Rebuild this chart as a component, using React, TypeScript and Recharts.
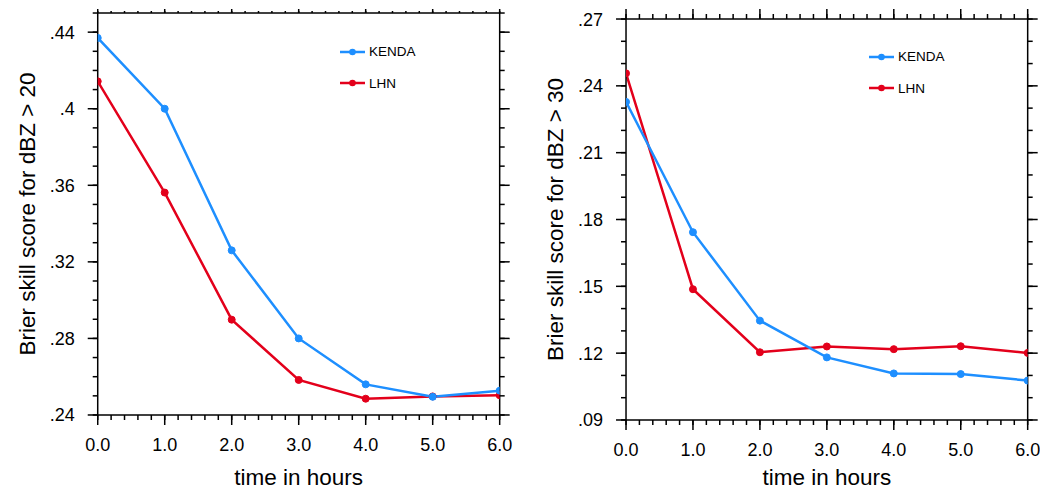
import { LineChart, Line, XAxis, YAxis, Legend } from "recharts";

const HOURS = [0, 1, 2, 3, 4, 5, 6];
const MINOR_HOURS = [
  0, 0.2, 0.4, 0.6, 0.8, 1, 1.2, 1.4, 1.6, 1.8, 2, 2.2, 2.4, 2.6, 2.8, 3, 3.2,
  3.4, 3.6, 3.8, 4, 4.2, 4.4, 4.6, 4.8, 5, 5.2, 5.4, 5.6, 5.8, 6,
];

// dBZ > 20
const KENDA_20 = [0.437, 0.4, 0.326, 0.28, 0.256, 0.2495, 0.2527];
const LHN_20 = [0.4143, 0.3562, 0.2898, 0.2583, 0.2485, 0.2497, 0.2503];
const TICKS_20 = [0.24, 0.28, 0.32, 0.36, 0.4, 0.44];
const MINOR_20 = [
  0.24, 0.25, 0.26, 0.27, 0.28, 0.29, 0.3, 0.31, 0.32, 0.33, 0.34, 0.35, 0.36,
  0.37, 0.38, 0.39, 0.4, 0.41, 0.42, 0.43, 0.44, 0.45,
];

// dBZ > 30
const KENDA_30 = [0.2328, 0.1743, 0.1346, 0.1181, 0.1109, 0.1106, 0.1077];
const LHN_30 = [0.2456, 0.1487, 0.1204, 0.123, 0.1218, 0.1231, 0.1201];
const TICKS_30 = [0.09, 0.12, 0.15, 0.18, 0.21, 0.24, 0.27];
const MINOR_30 = [
  0.09, 0.1, 0.11, 0.12, 0.13, 0.14, 0.15, 0.16, 0.17, 0.18, 0.19, 0.2, 0.21,
  0.22, 0.23, 0.24, 0.25, 0.26, 0.27,
];

const BLUE = "#1e8fff";
const RED = "#e3001b";
const FONT = '"Liberation Sans", Arial, Helvetica, sans-serif';
const THIN = 0.01; // axes need a non-zero size to be drawn
const TICK_FONT = 18;

const rows20 = HOURS.map((t, i) => ({ t, kenda: KENDA_20[i], lhn: LHN_20[i] }));
const rows30 = HOURS.map((t, i) => ({ t, kenda: KENDA_30[i], lhn: LHN_30[i] }));

const fmtX = (v: number) => v.toFixed(1);
const fmtY = (v: number) => String(Number(v.toFixed(2))).replace(/^0/, "");

// NCL-style outward tick marks, drawn together with the (optional) label.
// x / y come from recharts: the label anchor, tickSize + margin away from the axis.
function makeTick(side: string, size: number, margin: number, fmt?: (v: number) => string) {
  return (p: any) => {
    const { x, y, payload } = p;
    let line;
    let text = null;
    if (side === "left") {
      line = <line x1={x + margin} x2={x + margin + size} y1={y} y2={y} />;
      if (fmt) text = <text x={x} y={y} dy="0.36em" textAnchor="end">{fmt(payload.value)}</text>;
    } else if (side === "right") {
      line = <line x1={x - margin - size} x2={x - margin} y1={y} y2={y} />;
    } else if (side === "bottom") {
      line = <line x1={x} x2={x} y1={y - margin - size} y2={y - margin} />;
      if (fmt) text = <text x={x} y={y} dy="0.72em" textAnchor="middle">{fmt(payload.value)}</text>;
    } else {
      line = <line x1={x} x2={x} y1={y + margin} y2={y + margin + size} />;
    }
    return (
      <g stroke="none" fill="#000" fontSize={TICK_FONT} fontFamily={FONT}>
        <g stroke="#000" strokeWidth={1.5}>{line}</g>
        {text}
      </g>
    );
  };
}

function yTitle(text: string, dx: number) {
  return {
    content: ({ viewBox }: any) => {
      const cx = viewBox.x + viewBox.width - dx;
      const cy = viewBox.y + viewBox.height / 2;
      return (
        <text
          x={cx}
          y={cy}
          transform={`rotate(-90 ${cx} ${cy})`}
          textAnchor="middle"
          fontSize={22.5}
          fontFamily={FONT}
          fill="#000"
        >
          {text}
        </text>
      );
    },
  };
}

function LegendBox() {
  const items = [
    { name: "KENDA", color: BLUE },
    { name: "LHN", color: RED },
  ];
  return (
    <div style={{ fontFamily: FONT, fontSize: 13.5, color: "#000" }}>
      {items.map((it) => (
        <div
          key={it.name}
          style={{ display: "flex", alignItems: "center", height: 31.5 }}
        >
          <svg width={25} height={10} style={{ marginRight: 4 }}>
            <line x1={0} y1={5} x2={25} y2={5} stroke={it.color} strokeWidth={2.5} />
            <circle cx={12.5} cy={5} r={3.3} fill={it.color} />
          </svg>
          <span>{it.name}</span>
        </div>
      ))}
    </div>
  );
}

const axisLine = { stroke: "#000", strokeWidth: 1.5 };

function ScorePanel({ data, ticks, minor, domain, title, margin, legendLeft, legendTop, topTick, titleDx, xTitleOffset }: any) {
  return (
    <LineChart width={520} height={490} data={data} margin={margin}>
      <XAxis
        xAxisId="b"
        dataKey="t"
        type="number"
        domain={[0, 6]}
        allowDataOverflow
        ticks={HOURS}
        interval={0}
        height={THIN}
        tickSize={10}
        tickMargin={13}
        axisLine={axisLine}
        tickLine={false}
        tick={makeTick("bottom", 10, 13, fmtX)}
        label={{
          value: "time in hours",
          position: "bottom",
          offset: xTitleOffset,
          fill: "#000",
          fontSize: 22.5,
          fontFamily: FONT,
        }}
      />
      <XAxis
        xAxisId="bm"
        type="number"
        domain={[0, 6]}
        allowDataOverflow
        ticks={MINOR_HOURS}
        interval={0}
        height={THIN}
        tickSize={5}
        tickMargin={0}
        axisLine={false}
        tickLine={false}
        tick={makeTick("bottom", 5, 0)}
      />
      <XAxis
        xAxisId="tp"
        orientation="top"
        type="number"
        domain={[0, 6]}
        allowDataOverflow
        ticks={HOURS}
        interval={0}
        height={THIN}
        tickSize={topTick}
        tickMargin={0}
        axisLine={axisLine}
        tickLine={false}
        tick={makeTick("top", topTick, 0)}
      />
      <XAxis
        xAxisId="tm"
        orientation="top"
        type="number"
        domain={[0, 6]}
        allowDataOverflow
        ticks={MINOR_HOURS}
        interval={0}
        height={THIN}
        tickSize={topTick / 2}
        tickMargin={0}
        axisLine={false}
        tickLine={false}
        tick={makeTick("top", topTick / 2, 0)}
      />
      <YAxis
        yAxisId="l"
        type="number"
        domain={domain}
        allowDataOverflow
        ticks={ticks}
        interval={0}
        width={THIN}
        tickSize={10}
        tickMargin={13}
        axisLine={axisLine}
        tickLine={false}
        tick={makeTick("left", 10, 13, fmtY)}
        label={yTitle(title, titleDx)}
      />
      <YAxis
        yAxisId="lm"
        type="number"
        domain={domain}
        allowDataOverflow
        ticks={minor}
        interval={0}
        width={THIN}
        tickSize={5}
        tickMargin={0}
        axisLine={false}
        tickLine={false}
        tick={makeTick("left", 5, 0)}
      />
      <YAxis
        yAxisId="r"
        orientation="right"
        type="number"
        domain={domain}
        allowDataOverflow
        ticks={ticks}
        interval={0}
        width={THIN}
        tickSize={10}
        tickMargin={0}
        axisLine={axisLine}
        tickLine={false}
        tick={makeTick("right", 10, 0)}
      />
      <YAxis
        yAxisId="rm"
        orientation="right"
        type="number"
        domain={domain}
        allowDataOverflow
        ticks={minor}
        interval={0}
        width={THIN}
        tickSize={5}
        tickMargin={0}
        axisLine={false}
        tickLine={false}
        tick={makeTick("right", 5, 0)}
      />
      <Legend
        layout="vertical"
        align="center"
        verticalAlign="middle"
        content={() => <LegendBox />}
        wrapperStyle={{ left: legendLeft, top: legendTop, width: 120, height: 70 }}
      />
      <Line
        xAxisId="b"
        yAxisId="l"
        dataKey="lhn"
        name="LHN"
        type="linear"
        stroke={RED}
        strokeWidth={2.5}
        dot={{ r: 3.5, fill: RED, stroke: RED, strokeWidth: 1 }}
        activeDot={false}
        isAnimationActive={false}
      />
      <Line
        xAxisId="b"
        yAxisId="l"
        dataKey="kenda"
        name="KENDA"
        type="linear"
        stroke={BLUE}
        strokeWidth={2.5}
        dot={{ r: 3.5, fill: BLUE, stroke: BLUE, strokeWidth: 1 }}
        activeDot={false}
        isAnimationActive={false}
      />
    </LineChart>
  );
}

export default function App() {
  return (
    <div
      style={{
        position: "absolute",
        left: 0,
        top: 0,
        width: 1040,
        height: 490,
        background: "#fff",
        overflow: "hidden",
      }}
    >
      <div style={{ position: "absolute", left: 0, top: 0 }}>
        <ScorePanel
          data={rows20}
          ticks={TICKS_20}
          minor={MINOR_20}
          domain={[0.24, 0.45]}
          title="Brier skill score for dBZ > 20"
          margin={{ top: 13, right: 20.3, bottom: 75, left: 97.7 }}
          legendLeft={340}
          legendTop={36}
          topTick={4}
          titleDx={62.7}
          xTitleOffset={54}
        />
      </div>
      <div style={{ position: "absolute", left: 520, top: 0 }}>
        <ScorePanel
          data={rows30}
          ticks={TICKS_30}
          minor={MINOR_30}
          domain={[0.09, 0.27]}
          title="Brier skill score for dBZ > 30"
          margin={{ top: 19, right: 12.3, bottom: 70, left: 106 }}
          legendLeft={349}
          legendTop={41}
          topTick={10}
          titleDx={63}
          xTitleOffset={49}
        />
      </div>
    </div>
  );
}
